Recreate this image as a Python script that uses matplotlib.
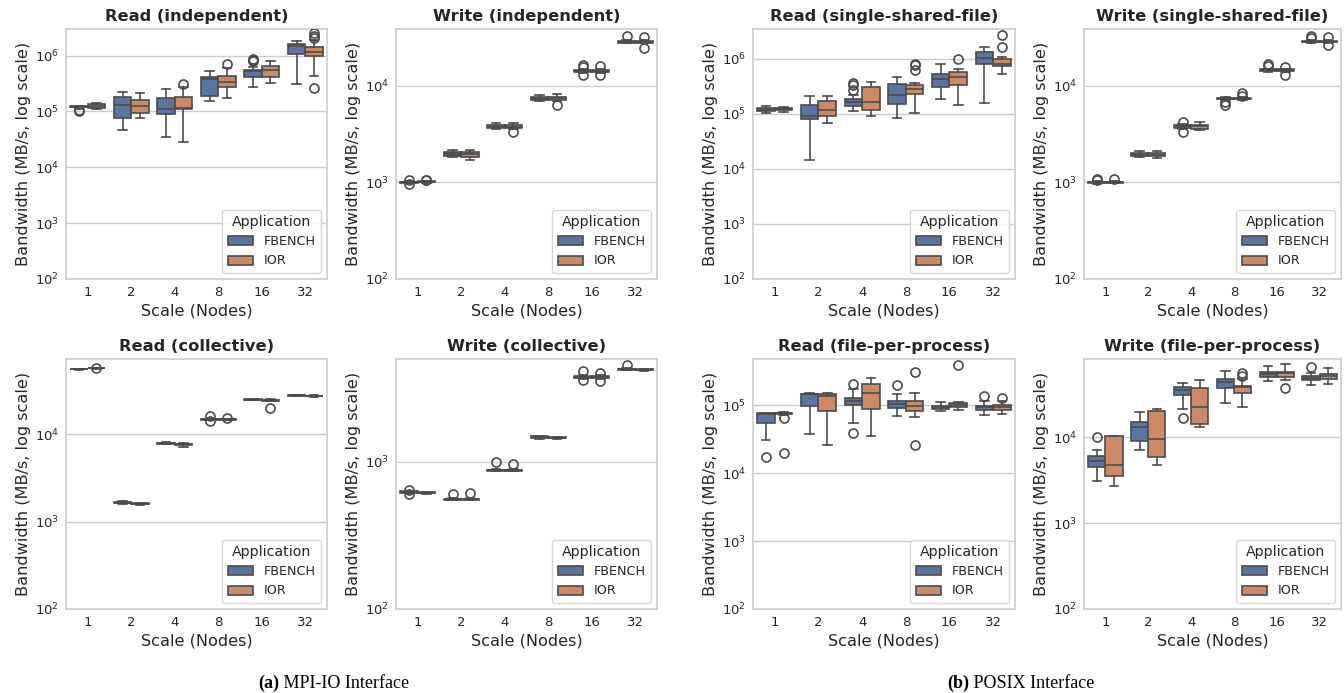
import colorsys
import matplotlib
matplotlib.use("Agg")
import matplotlib.pyplot as plt
from matplotlib.colors import to_rgb
from matplotlib.patches import Patch

# ---------------- data ----------------
scales = ["1", "2", "4", "8", "16", "32"]
apps = ["FBENCH", "IOR"]
titles = ["Read (independent)", "Write (independent)",
          "Read (single-shared-file)", "Write (single-shared-file)",
          "Read (collective)", "Write (collective)",
          "Read (file-per-process)", "Write (file-per-process)"]
captions = ["(a)", " MPI-IO Interface", "(b)", " POSIX Interface"]

# box stats per scale: (whislo, q1, median, q3, whishi)
read_indep_fbench = [(1.13e5, 1.18e5, 1.22e5, 1.25e5, 1.27e5), (4.6e4, 7.5e4, 1.29e5, 1.84e5, 2.22e5),
                     (3.5e4, 9.1e4, 1.12e5, 1.71e5, 2.48e5), (1.54e5, 1.89e5, 3.85e5, 4.17e5, 5.25e5),
                     (2.77e5, 4.17e5, 5.25e5, 5.63e5, 6.2e5), (3.15e5, 1.07e6, 1.5e6, 1.64e6, 1.8e6)]
read_indep_fbench_fliers = [[1.03e5, 1.06e5], [], [], [], [7.9e5, 8.3e5, 8.7e5], []]
read_indep_ior = [(1.10e5, 1.17e5, 1.27e5, 1.36e5, 1.40e5), (7.76e4, 9.5e4, 1.25e5, 1.58e5, 2.1e5),
                  (2.9e4, 1.09e5, 1.17e5, 1.84e5, 2.7e5), (1.71e5, 2.77e5, 3.44e5, 4.4e5, 6.0e5),
                  (3.26e5, 4.17e5, 5.48e5, 6.45e5, 7.9e5), (4.4e5, 1.0e6, 1.16e6, 1.43e6, 1.9e6)]
read_indep_ior_fliers = [[], [], [3.1e5], [7.1e5], [], [2.07e6, 2.27e6, 2.5e6, 2.65e5]]

write_indep_fbench = [(0.98e3, 0.995e3, 1.0e3, 1.01e3, 1.03e3), (1.84e3, 1.87e3, 1.96e3, 2.07e3, 2.15e3),
                      (3.54e3, 3.62e3, 3.78e3, 3.92e3, 4.1e3), (7.0e3, 7.1e3, 7.34e3, 7.57e3, 8.0e3),
                      (1.36e4, 1.40e4, 1.43e4, 1.46e4, 1.5e4), (2.75e4, 2.8e4, 2.87e4, 2.9e4, 2.95e4)]
write_indep_fbench_fliers = [[0.96e3, 1.07e3], [], [], [], [1.29e4, 1.57e4, 1.64e4], [3.27e4]]
write_indep_ior = [(0.99e3, 1.0e3, 1.02e3, 1.03e3, 1.04e3), (1.7e3, 1.84e3, 1.96e3, 2.07e3, 2.15e3),
                   (3.6e3, 3.66e3, 3.78e3, 3.9e3, 4.08e3), (6.9e3, 7.1e3, 7.4e3, 7.57e3, 8.2e3),
                   (1.36e4, 1.40e4, 1.43e4, 1.46e4, 1.5e4), (2.75e4, 2.8e4, 2.87e4, 2.9e4, 2.95e4)]
write_indep_ior_fliers = [[1.05e3, 1.07e3], [], [3.34e3], [6.26e3], [1.3e4, 1.6e4], [3.2e4, 2.47e4]]

read_ssf_fbench = [(1.05e5, 1.12e5, 1.2e5, 1.29e5, 1.38e5), (1.44e4, 8.2e4, 9.3e4, 1.48e5, 2.15e5),
                   (1.12e5, 1.42e5, 1.65e5, 1.9e5, 2.24e5), (8.45e4, 1.54e5, 2.25e5, 3.57e5, 4.64e5),
                   (1.9e5, 3.05e5, 4.38e5, 5.4e5, 8.2e5), (1.58e5, 8.1e5, 1.04e6, 1.34e6, 1.65e6)]
read_ssf_fbench_fliers = [[], [], [2.77e5, 3.4e5, 3.66e5], [], [], []]
read_ssf_ior = [(1.1e5, 1.18e5, 1.24e5, 1.3e5, 1.34e5), (6.9e4, 9.3e4, 1.2e5, 1.75e5, 2.15e5),
                (9.3e4, 1.17e5, 1.67e5, 3.1e5, 3.77e5), (1.04e5, 2.34e5, 2.85e5, 3.42e5, 3.66e5),
                (1.48e5, 3.32e5, 4.7e5, 5.72e5, 6.58e5), (5.4e5, 7.35e5, 8.1e5, 1.0e6, 1.09e6)]
read_ssf_ior_fliers = [[], [], [], [6.4e5, 7.6e5, 8.1e5], [1.0e6], [1.63e6, 2.77e6]]

write_ssf_fbench = [(0.97e3, 0.99e3, 1.0e3, 1.01e3, 1.02e3), (1.82e3, 1.85e3, 1.93e3, 2.03e3, 2.1e3),
                    (3.55e3, 3.62e3, 3.78e3, 3.92e3, 4.0e3), (7.1e3, 7.2e3, 7.34e3, 7.5e3, 7.7e3),
                    (1.38e4, 1.41e4, 1.44e4, 1.47e4, 1.5e4), (2.75e4, 2.8e4, 2.85e4, 2.92e4, 2.97e4)]
write_ssf_fbench_fliers = [[1.05e3, 1.07e3], [], [3.34e3, 4.17e3], [6.83e3, 6.3e3], [1.6e4, 1.66e4], [3.14e4, 3.26e4]]
write_ssf_ior = [(0.98e3, 0.99e3, 1.0e3, 1.01e3, 1.02e3), (1.77e3, 1.85e3, 1.93e3, 2.03e3, 2.1e3),
                 (3.48e3, 3.6e3, 3.78e3, 3.95e3, 4.24e3), (7.1e3, 7.2e3, 7.34e3, 7.5e3, 7.6e3),
                 (1.38e4, 1.41e4, 1.44e4, 1.47e4, 1.5e4), (2.75e4, 2.8e4, 2.85e4, 2.92e4, 2.97e4)]
write_ssf_ior_fliers = [[1.07e3], [], [], [7.88e3, 8.33e3], [1.57e4, 1.29e4], [3.2e4, 2.63e4]]

read_coll_fbench = [(5.5e4, 5.54e4, 5.57e4, 5.6e4, 5.65e4), (1.6e3, 1.62e3, 1.64e3, 1.67e3, 1.73e3),
                    (7.7e3, 7.8e3, 7.9e3, 8.0e3, 8.1e3), (1.46e4, 1.48e4, 1.49e4, 1.5e4, 1.52e4),
                    (2.45e4, 2.48e4, 2.5e4, 2.52e4, 2.55e4), (2.76e4, 2.78e4, 2.8e4, 2.82e4, 2.84e4)]
read_coll_fbench_fliers = [[], [], [], [1.42e4, 1.61e4], [], []]
read_coll_ior = [(5.65e4, 5.7e4, 5.72e4, 5.74e4, 5.76e4), (1.54e3, 1.58e3, 1.61e3, 1.63e3, 1.65e3),
                 (7.2e3, 7.6e3, 7.76e3, 7.85e3, 7.95e3), (1.46e4, 1.48e4, 1.49e4, 1.5e4, 1.52e4),
                 (2.4e4, 2.44e4, 2.46e4, 2.49e4, 2.55e4), (2.7e4, 2.73e4, 2.75e4, 2.77e4, 2.8e4)]
read_coll_ior_fliers = [[5.8e4], [], [], [1.53e4], [2.03e4], []]

write_coll_fbench = [(610, 618, 624, 630, 636), (548, 552, 556, 560, 565),
                     (865, 872, 877, 882, 888), (1.44e3, 1.46e3, 1.47e3, 1.49e3, 1.51e3),
                     (3.68e3, 3.72e3, 3.76e3, 3.82e3, 3.9e3), (4.18e3, 4.22e3, 4.26e3, 4.3e3, 4.35e3)]
write_coll_fbench_fliers = [[641, 604], [608], [990], [], [4.15e3, 3.6e3], [4.52e3]]
write_coll_ior = [(608, 613, 618, 622, 628), (548, 552, 556, 560, 565),
                  (860, 868, 877, 882, 888), (1.43e3, 1.45e3, 1.46e3, 1.47e3, 1.48e3),
                  (3.68e3, 3.72e3, 3.76e3, 3.82e3, 3.9e3), (4.15e3, 4.19e3, 4.22e3, 4.25e3, 4.28e3)]
write_coll_ior_fliers = [[], [618], [974], [], [4.0e3, 3.55e3], []]

read_fpp_fbench = [(3.08e4, 5.5e4, 7.4e4, 7.55e4, 7.7e4), (3.7e4, 9.7e4, 1.44e5, 1.45e5, 1.48e5),
                   (5.4e4, 1.0e5, 1.16e5, 1.28e5, 1.7e5), (6.98e4, 8.9e4, 1.03e5, 1.16e5, 1.43e5),
                   (8.17e4, 8.6e4, 9.25e4, 9.8e4, 1.09e5), (7.14e4, 8.45e4, 9.25e4, 9.8e4, 1.16e5)]
read_fpp_fbench_fliers = [[1.71e4], [], [2.07e5, 3.85e4], [2.0e5], [], [1.35e5]]
read_fpp_ior = [(7.2e4, 7.35e4, 7.55e4, 7.65e4, 7.8e4), (2.54e4, 8.3e4, 1.35e5, 1.45e5, 1.48e5),
                (3.56e4, 8.6e4, 1.48e5, 2.07e5, 2.51e5), (6.7e4, 8.26e4, 9.7e4, 1.15e5, 1.48e5),
                (8.45e4, 9.25e4, 1.0e5, 1.06e5, 1.12e5), (7.4e4, 8.45e4, 9.45e4, 1.0e5, 1.16e5)]
read_fpp_ior_fliers = [[6.4e4, 1.96e4], [], [], [3.08e5, 2.54e4], [3.93e5], [1.28e5]]

write_fpp_fbench = [(3.13e3, 4.52e3, 5.26e3, 6.12e3, 7.07e3), (7.07e3, 8.98e3, 1.31e4, 1.53e4, 2.0e4),
                    (2.15e4, 3.08e4, 3.58e4, 3.85e4, 4.28e4), (2.51e4, 3.81e4, 4.4e4, 4.81e4, 5.96e4),
                    (4.6e4, 5.03e4, 5.5e4, 5.85e4, 6.8e4), (4.1e4, 4.68e4, 4.99e4, 5.26e4, 5.7e4)]
write_fpp_fbench_fliers = [[1.02e4], [], [1.69e4], [], [], [6.58e4]]
write_fpp_ior = [(2.69e3, 3.52e3, 4.72e3, 1.04e4, 1.05e4), (4.81e3, 5.9e3, 9.65e3, 2.04e4, 2.13e4),
                 (1.31e4, 1.43e4, 2.25e4, 3.75e4, 4.68e4), (2.29e4, 3.28e4, 3.85e4, 3.99e4, 4.76e4),
                 (4.68e4, 5.03e4, 5.6e4, 5.85e4, 7.13e4), (4.17e4, 4.81e4, 5.2e4, 5.5e4, 6.4e4)]
write_fpp_ior_fliers = [[], [], [], [5.2e4, 5.6e4], [3.75e4], []]

y_top = [3.0e6, 3.87e4, 3.5e6, 3.85e4, 7.3e4, 5.0e3, 4.75e5, 8.2e4]
y_bottom = 1e2

panels = [
    (read_indep_fbench, read_indep_fbench_fliers, read_indep_ior, read_indep_ior_fliers),
    (write_indep_fbench, write_indep_fbench_fliers, write_indep_ior, write_indep_ior_fliers),
    (read_ssf_fbench, read_ssf_fbench_fliers, read_ssf_ior, read_ssf_ior_fliers),
    (write_ssf_fbench, write_ssf_fbench_fliers, write_ssf_ior, write_ssf_ior_fliers),
    (read_coll_fbench, read_coll_fbench_fliers, read_coll_ior, read_coll_ior_fliers),
    (write_coll_fbench, write_coll_fbench_fliers, write_coll_ior, write_coll_ior_fliers),
    (read_fpp_fbench, read_fpp_fbench_fliers, read_fpp_ior, read_fpp_ior_fliers),
    (write_fpp_fbench, write_fpp_fbench_fliers, write_fpp_ior, write_fpp_ior_fliers),
]

# ---------------- style ----------------
plt.rcParams["font.family"] = ["DejaVu Sans"]


def desaturate(color, prop):
    h, l, s = colorsys.rgb_to_hls(*to_rgb(color))
    return colorsys.hls_to_rgb(h, l, s * prop)


colors = [desaturate("#4c72b0", 0.75), desaturate("#dd8452", 0.75)]
gray = (0.296, 0.296, 0.296)
text_c = "#262626"
lw = 1.2

W, H = 1344, 693
fig = plt.figure(figsize=(W / 100, H / 100), dpi=100)
cols = [(66, 327), (396, 657), (753, 1015), (1084, 1341)]
rows = [(29, 279), (359, 609)]
layout = [(0, 0), (0, 1), (0, 2), (0, 3), (1, 0), (1, 1), (1, 2), (1, 3)]


def make_stats(boxes, fliers):
    return [dict(whislo=b[0], q1=b[1], med=b[2], q3=b[3], whishi=b[4], fliers=f)
            for b, f in zip(boxes, fliers)]


for k, (fb, fbf, io, iof) in enumerate(panels):
    r, c = layout[k]
    l, rt = cols[c]
    t, b = rows[r]
    ax = fig.add_axes([l / W, 1 - b / H, (rt - l) / W, (b - t) / H])
    ax.set_facecolor("white")
    ax.set_yscale("log")
    for j, (bx, fl) in enumerate([(fb, fbf), (io, iof)]):
        off = -0.2 if j == 0 else 0.2
        ax.bxp(make_stats(bx, fl), positions=[i + off for i in range(len(scales))],
               widths=0.4, capwidths=0.2, patch_artist=True, showfliers=True,
               boxprops=dict(facecolor=colors[j], edgecolor=gray, linewidth=lw),
               whiskerprops=dict(color=gray, linewidth=lw),
               capprops=dict(color=gray, linewidth=lw),
               medianprops=dict(color=gray, linewidth=lw),
               flierprops=dict(marker="o", markerfacecolor="none", markeredgecolor=gray,
                               markersize=6.5, markeredgewidth=lw),
               zorder=3)
    ax.set_xlim(-0.5, len(scales) - 0.5)
    ax.set_ylim(y_bottom, y_top[k])
    ax.set_xticks(range(len(scales)))
    ax.set_xticklabels(scales)
    ax.yaxis.grid(True, which="major", color="#cccccc", linewidth=1.0, zorder=0)
    ax.xaxis.grid(False)
    ax.set_axisbelow(True)
    ax.tick_params(which="both", length=0, labelsize=9.5, labelcolor=text_c, pad=5)
    for sp in ax.spines.values():
        sp.set_color("#cccccc")
        sp.set_linewidth(1.2)
    ax.set_title(titles[k], fontsize=11.7, fontweight="bold", color=text_c, pad=6)
    ax.set_xlabel("Scale (Nodes)", fontsize=11.6, color=text_c, labelpad=3)
    ax.set_ylabel("Bandwidth (MB/s, log scale)", fontsize=11.6, color=text_c, labelpad=3)
    handles = [Patch(facecolor=colors[j], edgecolor=gray, linewidth=lw, label=apps[j]) for j in range(2)]
    leg = ax.legend(handles=handles, title="Application", loc="lower right",
                    fontsize=9.2, title_fontsize=10.2, frameon=True, fancybox=True,
                    edgecolor="#cccccc", facecolor="white", framealpha=0.8)
    leg.get_title().set_color(text_c)
    for tx in leg.get_texts():
        tx.set_color(text_c)

# captions
serif = ["Liberation Serif", "DejaVu Serif"]
for (xs, lab, rest) in [(258, captions[0], captions[1]), (947, captions[2], captions[3])]:
    t1 = fig.text(xs / W, 1 - 688 / H, lab, fontfamily=serif, fontweight="bold",
                  fontsize=13, va="baseline", ha="left", color="black")
    ann = plt.annotate(rest, xy=(1, 0), xycoords=t1, va="bottom", ha="left",
                       fontfamily=serif, fontsize=13, color="black",
                       annotation_clip=False)

fig.savefig("out.png", dpi=100)
